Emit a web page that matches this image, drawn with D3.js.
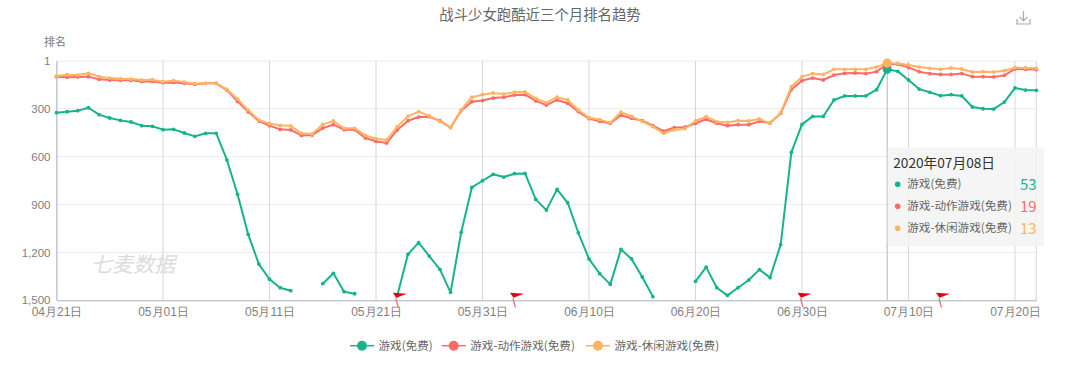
<!DOCTYPE html>
<html>
<head>
<meta charset="utf-8">
<script src="https://cdn.jsdelivr.net/npm/d3@7"></script>
<style>
  html, body { margin: 0; background: #fff; }
  svg { display: block; font-family: "Noto Sans CJK SC", "Noto Sans", sans-serif; }
</style>
</head>
<body>
<svg id="chart" width="1066" height="367"></svg>
<script>
// Rank per day from 2020-04-21 to 2020-07-22, null where the game was off the chart
const startDate = Date.UTC(2020, 3, 21);
const freeGames = [325,319,312,294,337,358,373,383,406,410,431,429,452,473,454,454,621,836,1087,1273,1368,1421,1440,null,null,1396,1331,1446,1459,null,null,null,1470,1212,1139,1223,1306,1450,1074,793,751,711,728,707,705,868,935,805,889,1077,1241,1333,1400,1181,1241,1354,1477,null,null,null,1381,1292,1421,1469,1421,1373,1308,1358,1151,573,398,348,348,245,220,220,220,181,53,66,120,177,197,218,212,220,289,300,302,258,170,183,185];
const actionGames = [99,103,101,99,116,120,122,122,129,129,137,135,141,147,141,141,183,254,319,377,406,429,433,467,465,421,400,431,431,483,504,515,433,375,352,350,375,418,312,256,249,233,228,214,212,251,277,245,266,318,362,379,391,341,360,375,406,441,418,416,391,366,391,406,400,400,379,390,329,179,124,108,120,89,78,76,80,68,19,22,41,68,80,85,85,80,99,99,101,91,51,53,55];
const casualGames = [95,87,89,78,99,108,112,114,120,118,131,124,133,143,141,141,179,239,310,371,394,404,408,454,458,398,377,423,423,467,488,496,412,348,318,345,379,418,308,228,212,201,208,197,195,235,262,228,245,308,356,368,387,322,348,379,412,454,433,425,377,350,381,385,375,377,364,392,325,162,99,80,85,53,53,53,53,39,13,16,26,39,47,53,45,51,70,68,70,62,43,45,47];

const seriesNames = ['游戏(免费)', '游戏-动作游戏(免费)', '游戏-休闲游戏(免费)'];
const seriesValues = [freeGames, actionGames, casualGames];
const seriesColors = ['#17b48c', '#fb6b68', '#ffb463'];

const rankTicks = [1, 300, 600, 900, 1200, 1500];
const flagDays = [32, 43, 70, 83]; // days after the start that carry a red flag
const hoverDay = 78;

const dayToDate = i => d3.utcDay.offset(new Date(startDate), i);
const dates = freeGames.map((_, i) => dayToDate(i));

const svg = d3.select('#chart');
const margin = { top: 61, right: 29.7, bottom: 66.7, left: 56.5 };
const width = 1066, height = 367;

const x = d3.scaleUtc()
    .domain([dates[0], dates[dates.length - 1]])
    .range([margin.left, width - margin.right]);

const y = d3.scaleLinear()
    .domain([1, 1500])
    .range([margin.top, height - margin.bottom]);

const xTicks = d3.range(0, 93, 10).map(dayToDate);

// Title and y axis name
svg.append('text')
    .attr('x', 540).attr('y', 20)
    .attr('text-anchor', 'middle')
    .attr('fill', '#666')
    .style('font-size', '14.4px')
    .text('战斗少女跑酷近三个月排名趋势');

svg.append('text')
    .attr('x', 44).attr('y', 46)
    .attr('fill', '#777')
    .style('font-size', '11px')
    .text('排名');

// Download icon
svg.append('path')
    .attr('transform', 'translate(1016,10)')
    .attr('fill', 'none')
    .attr('stroke', '#aaa')
    .attr('stroke-width', 1.2)
    .attr('d', 'M1 9V14H14V9M7.5 1V10.5M3.5 6.8L7.5 10.8L11.5 6.8');

// Grid lines
svg.append('g')
    .selectAll('line')
    .data(rankTicks.slice(0, -1))
    .join('line')
    .attr('x1', margin.left).attr('x2', width - margin.right)
    .attr('y1', d => y(d)).attr('y2', d => y(d))
    .attr('stroke', '#ececec');

svg.append('g')
    .selectAll('line')
    .data(xTicks.concat([dates[dates.length - 1]]))
    .join('line')
    .attr('x1', d => x(d)).attr('x2', d => x(d))
    .attr('y1', margin.top).attr('y2', height - margin.bottom)
    .attr('stroke', '#d4d6da');

// Axes
const xAxis = svg.append('g')
    .attr('transform', `translate(0,${height - margin.bottom})`)
    .call(d3.axisBottom(x).tickValues(xTicks).tickFormat(d3.utcFormat('%m月%d日')).tickSize(0).tickPadding(7));
xAxis.select('.domain').attr('stroke', '#a6b1c2');
xAxis.selectAll('text').attr('fill', '#808080').style('font-size', '12px');

const yAxis = svg.append('g')
    .attr('transform', `translate(${margin.left},0)`)
    .call(d3.axisLeft(y).tickValues(rankTicks).tickFormat(d3.format(',')).tickSize(0).tickPadding(6));
yAxis.select('.domain').attr('stroke', '#b9c0cd');
yAxis.selectAll('text').attr('fill', '#808080').style('font-size', '11.5px');

// Watermark
svg.append('text')
    .attr('x', 91).attr('y', 272)
    .attr('fill', '#dcdcdc')
    .style('font-size', '21px')
    .style('font-style', 'italic')
    .text('七麦数据');

// Hover line
svg.append('line')
    .attr('x1', x(dayToDate(hoverDay))).attr('x2', x(dayToDate(hoverDay)))
    .attr('y1', margin.top).attr('y2', height - margin.bottom)
    .attr('stroke', '#b3b6bb');

// Series
const line = d3.line()
    .defined(d => d !== null)
    .x((d, i) => x(dates[i]))
    .y(d => y(d));

seriesValues.forEach((values, s) => {
    svg.append('path')
        .attr('fill', 'none')
        .attr('stroke', seriesColors[s])
        .attr('stroke-width', 2)
        .attr('stroke-linejoin', 'round')
        .attr('d', line(values));

    svg.append('g')
        .selectAll('circle')
        .data(values.map((v, i) => ({ v, i })).filter(d => d.v !== null))
        .join('circle')
        .attr('cx', d => x(dates[d.i]))
        .attr('cy', d => y(d.v))
        .attr('r', d => d.i === hoverDay ? 4.5 : 1.9)
        .attr('fill', seriesColors[s]);
});

// Flags on the axis
const flags = svg.append('g')
    .selectAll('g')
    .data(flagDays)
    .join('g')
    .attr('transform', d => `translate(${x(dayToDate(d))},${height - margin.bottom})`);
flags.append('path')
    .attr('d', 'M-1.5 -2L1 7')
    .attr('stroke', '#f2606a')
    .attr('stroke-width', 1.2);
flags.append('path')
    .attr('d', 'M-4.5 -7.5L9.5 -6.5L-1 -2.5Z')
    .attr('fill', '#e60012');

// Tooltip for the hovered day
const tooltip = svg.append('g').attr('transform', 'translate(887.7,147.3)');
tooltip.append('rect')
    .attr('width', 156.5).attr('height', 99).attr('rx', 3)
    .attr('fill', '#f4f4f4').attr('fill-opacity', 0.88);
tooltip.append('text')
    .attr('x', 5.5).attr('y', 21)
    .attr('fill', '#333')
    .style('font-size', '13.7px')
    .text(d3.utcFormat('%Y年%m月%d日')(dayToDate(hoverDay)));

const rows = tooltip.selectAll('g.row')
    .data(seriesNames)
    .join('g')
    .attr('class', 'row')
    .attr('transform', (d, i) => `translate(0,${37 + i * 22})`);
rows.append('circle')
    .attr('cx', 10).attr('cy', 0).attr('r', 2.8)
    .attr('fill', (d, i) => seriesColors[i]);
rows.append('text')
    .attr('x', 19.5).attr('y', 4)
    .attr('fill', '#666')
    .style('font-size', '11.6px')
    .text(d => d);
rows.append('text')
    .attr('x', 149).attr('y', 6)
    .attr('text-anchor', 'end')
    .attr('fill', (d, i) => seriesColors[i])
    .style('font-size', '15px')
    .text((d, i) => seriesValues[i][hoverDay]);

// Legend
const legendX = [350, 441.7, 586];
const legend = svg.append('g')
    .selectAll('g')
    .data(seriesNames)
    .join('g')
    .attr('transform', (d, i) => `translate(${legendX[i]},345.7)`);
legend.append('line')
    .attr('x1', 0).attr('x2', 24)
    .attr('stroke', (d, i) => seriesColors[i])
    .attr('stroke-width', 1.5);
legend.append('circle')
    .attr('cx', 12).attr('r', 5)
    .attr('fill', (d, i) => seriesColors[i]);
legend.append('text')
    .attr('x', 28.5).attr('y', 4)
    .attr('fill', '#666')
    .style('font-size', '11.6px')
    .text(d => d);
</script>
</body>
</html>
